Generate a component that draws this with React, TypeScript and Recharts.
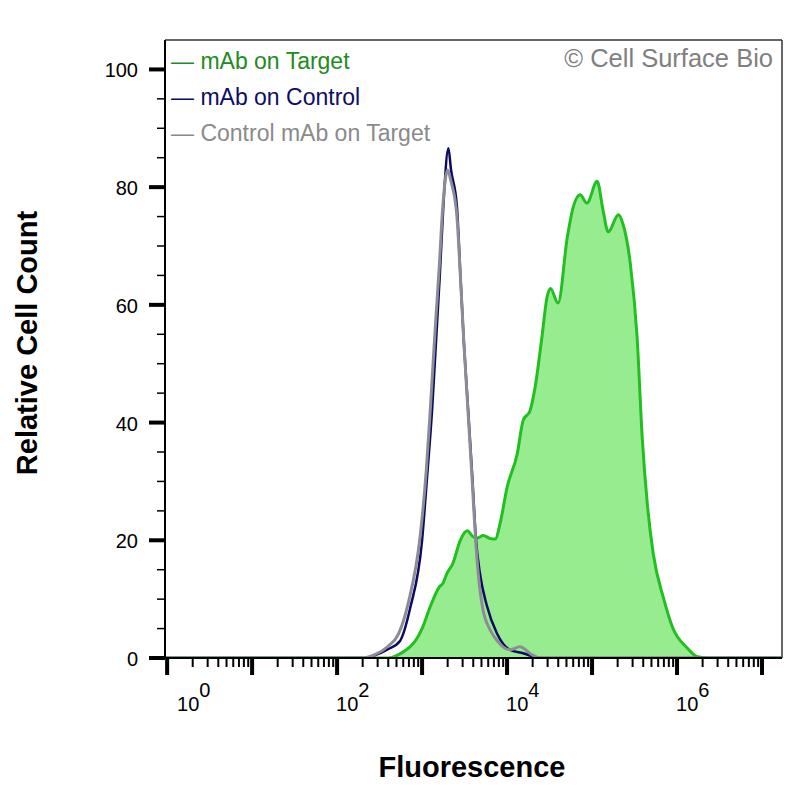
import React from 'react';
import { ComposedChart, Area, Line, XAxis, YAxis, ReferenceLine, Legend } from 'recharts';

// log10(fluorescence) positions and relative counts
const targetLogFl = [-0.025, 2.6, 2.74, 2.85, 2.92, 3.0, 3.09, 3.2, 3.25, 3.29, 3.36, 3.45, 3.53, 3.6, 3.65, 3.72, 3.8, 3.86, 3.92, 4.0, 4.12, 4.19, 4.27, 4.33, 4.41, 4.47, 4.51, 4.6, 4.71, 4.78, 4.86, 4.94, 5.06, 5.13, 5.19, 5.31, 5.36, 5.45, 5.53, 5.59, 5.65, 5.72, 5.84, 5.95, 6.12, 6.24, 6.35, 7.235];
const targetCount = [0, 0, 0.7, 1.8, 2.9, 5, 8.5, 12, 12.8, 14.3, 16, 20, 21.6, 20.6, 20.4, 20.8, 20.3, 20.2, 23, 29, 34.7, 40.4, 42, 46, 54.5, 61.3, 62.8, 60.3, 71.6, 76.7, 78.7, 77.3, 81, 76, 72.4, 75.3, 73.9, 67, 54.5, 37.5, 26.2, 17.7, 10.2, 5.1, 1.7, 0.2, 0, 0];

const controlLogFl = [-0.025, 2.3, 2.45, 2.6, 2.74, 2.86, 3.0, 3.06, 3.12, 3.165, 3.21, 3.25, 3.31, 3.34, 3.41, 3.45, 3.49, 3.54, 3.59, 3.635, 3.68, 3.76, 3.88, 4.03, 4.19, 4.39, 7.235];
const controlCount = [0, 0, 0.5, 1.5, 2.9, 8.5, 20, 31, 42.6, 54, 65.4, 76.7, 86.6, 83, 76.7, 65.4, 54, 42.6, 31, 20, 14.4, 9, 4.2, 1.4, 0.8, 0, 0];

const isotypeLogFl = [-0.025, 2.3, 2.45, 2.6, 2.72, 2.84, 2.98, 3.05, 3.1, 3.15, 3.2, 3.245, 3.3, 3.34, 3.41, 3.45, 3.49, 3.54, 3.59, 3.63, 3.67, 3.71, 3.8, 3.88, 4.03, 4.15, 4.3, 4.39, 7.235];
const isotypeCount = [0, 0, 0.6, 2, 4, 9.5, 21, 32, 43, 55, 66, 77, 82.9, 81, 75, 65, 54, 42, 30, 20, 13, 8.7, 4.8, 3, 1.4, 1.9, 0.5, 0, 0];

const xDecades = [0, 1, 2, 3, 4, 5, 6, 7];
const xLabelDecades = [0, 2, 4, 6];
const xMinorMultipliers = [2, 3, 4, 5, 6, 7, 8, 9];
const yTicks = [0, 5, 10, 15, 20, 25, 30, 35, 40, 45, 50, 55, 60, 65, 70, 75, 80, 85, 90, 95, 100];
const yLabelTicks = [0, 20, 40, 60, 80, 100];

const legendLabels = ['mAb on Target', 'mAb on Control', 'Control mAb on Target'];
const legendColors = ['#228b22', '#0c0c66', '#8a8a8a'];

const X_DOMAIN: [number, number] = [-0.025, 7.235];
const Y_DOMAIN: [number, number] = [0, 105];
const FONT = '"Liberation Sans", Arial, Helvetica, sans-serif';

const zip = (xs: number[], ys: number[]) => xs.map((x, i) => ({ x, y: ys[i] }));
const targetData = zip(targetLogFl, targetCount);
const controlData = zip(controlLogFl, controlCount);
const isotypeData = zip(isotypeLogFl, isotypeCount);

const xTicks: number[] = [];
xDecades.forEach((d) => {
  xTicks.push(d);
  if (d < 7) xMinorMultipliers.forEach((m) => xTicks.push(d + Math.log10(m)));
});

const XTick = (props: any) => {
  const { x, y, payload } = props;
  const v = payload.value as number;
  const major = Math.abs(v - Math.round(v)) < 1e-6;
  const dec = Math.round(v);
  const showLabel = major && xLabelDecades.includes(dec);
  return (
    <g>
      <line x1={x} x2={x} y1={y} y2={y + (major ? 17 : 9)} stroke="#000" strokeWidth={major ? 4 : 2} />
      {showLabel && (
        <text x={x + (dec === 0 ? 10 : -1)} y={y + 53} fontFamily={FONT} fontSize={20} fill="#000" textAnchor="start">
          <tspan>10</tspan>
          <tspan dy={-14} fontSize={20}>{dec}</tspan>
        </text>
      )}
    </g>
  );
};

const YTick = (props: any) => {
  const { x, y, payload } = props;
  const v = payload.value as number;
  const major = yLabelTicks.includes(v);
  return (
    <g>
      <line x1={x - (major ? 16 : 8)} x2={x} y1={y} y2={y} stroke="#000" strokeWidth={major ? 4 : 1.5} />
      {major && (
        <text x={x - 27} y={y + 8} fontFamily={FONT} fontSize={20} fill="#000" textAnchor="end">
          {v}
        </text>
      )}
    </g>
  );
};

const LegendContent = () => (
  <div style={{ fontFamily: FONT, fontSize: 23, lineHeight: '36px', whiteSpace: 'nowrap' }}>
    {legendLabels.map((l, i) => (
      <div key={l} style={{ color: legendColors[i] }}>{'\u2014 ' + l}</div>
    ))}
  </div>
);

export default function App() {
  return (
    <div style={{ position: 'absolute', left: 0, top: 0, width: 800, height: 800, background: '#fff' }}>
      <ComposedChart width={800} height={800} margin={{ top: 40, right: 18, bottom: 0, left: 0 }}>
        <XAxis
          type="number"
          dataKey="x"
          domain={X_DOMAIN}
          allowDataOverflow
          ticks={xTicks}
          interval={0}
          tick={<XTick />}
          tickLine={false}
          tickSize={0}
          tickMargin={0}
          height={142}
          axisLine={{ stroke: '#000', strokeWidth: 2 }}
        />
        <YAxis
          type="number"
          domain={Y_DOMAIN}
          allowDataOverflow
          ticks={yTicks}
          interval={0}
          tick={<YTick />}
          tickLine={false}
          tickSize={0}
          tickMargin={0}
          width={165}
          axisLine={{ stroke: '#000', strokeWidth: 2 }}
        />
        <ReferenceLine y={105} stroke="#333" strokeWidth={1.5} />
        <ReferenceLine x={7.235} stroke="#333" strokeWidth={1.5} />
        <Line data={controlData} dataKey="y" type="monotone" stroke="#0a0a62" strokeWidth={2.5} dot={false} isAnimationActive={false} />
        <Line data={isotypeData} dataKey="y" type="monotone" stroke="#8c8c96" strokeWidth={3} dot={false} isAnimationActive={false} />
        <Area data={targetData} dataKey="y" type="monotone" stroke="#22bf22" strokeWidth={3} fill="#44dc35" fillOpacity={0.55} isAnimationActive={false} />
        <Legend
          layout="vertical"
          align="center"
          verticalAlign="middle"
          content={<LegendContent />}
          wrapperStyle={{ top: 43, left: 171, width: 300, height: 110 }}
        />
      </ComposedChart>
      <svg width={800} height={800} style={{ position: 'absolute', left: 0, top: 0, pointerEvents: 'none' }}>
        <text x={773} y={67} textAnchor="end" fontFamily={FONT} fontSize={25.5} fill="#808080">© Cell Surface Bio</text>
        <text x={472} y={777} textAnchor="middle" fontFamily={FONT} fontSize={29} fontWeight="bold" fill="#000">Fluorescence</text>
        <text x={37} y={343} textAnchor="middle" fontFamily={FONT} fontSize={29} fontWeight="bold" fill="#000" transform="rotate(-90 37 343)">Relative Cell Count</text>
      </svg>
    </div>
  );
}
